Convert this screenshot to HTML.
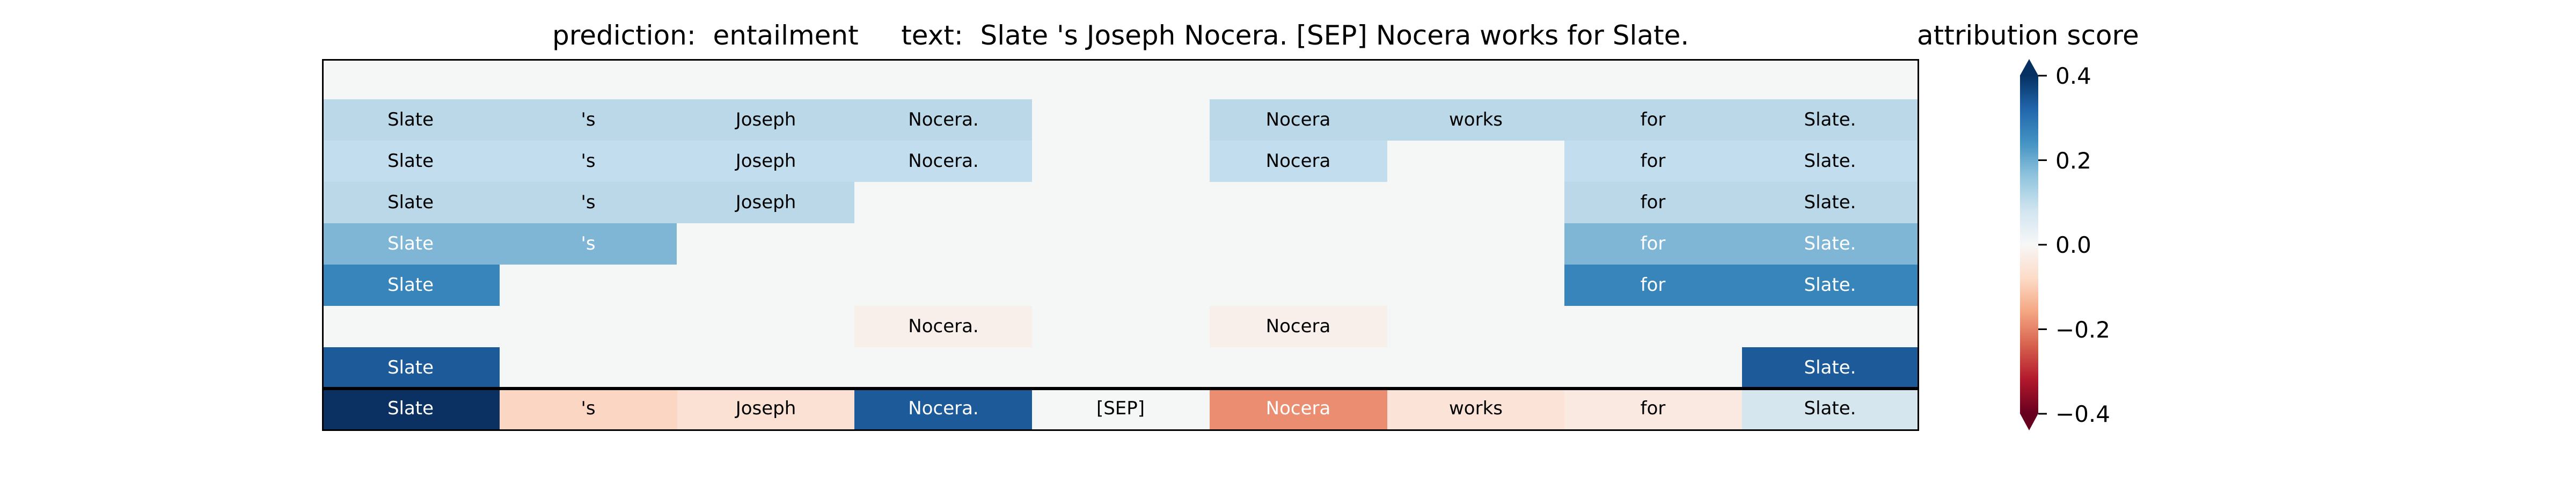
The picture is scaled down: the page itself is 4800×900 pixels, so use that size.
<!DOCTYPE html>
<html><head><meta charset="utf-8"><style>
html,body{margin:0;padding:0;background:#fff;width:4800px;height:900px;overflow:hidden}
svg text{font-family:"DejaVu Sans","Liberation Sans",sans-serif}
</style></head><body>
<svg width="4800" height="900" viewBox="0 0 4800 900" xmlns="http://www.w3.org/2000/svg">
<defs>
<linearGradient id="rdbu" x1="0" y1="0" x2="0" y2="1">
<stop offset="0" stop-color="#053061"/><stop offset="0.1" stop-color="#2166ac"/><stop offset="0.2" stop-color="#4393c3"/><stop offset="0.3" stop-color="#92c5de"/><stop offset="0.4" stop-color="#d1e5f0"/><stop offset="0.5" stop-color="#f7f7f7"/><stop offset="0.6" stop-color="#fddbc7"/><stop offset="0.7" stop-color="#f4a582"/><stop offset="0.8" stop-color="#d6604d"/><stop offset="0.9" stop-color="#b2182b"/><stop offset="1" stop-color="#67001f"/>
</linearGradient>
</defs>
<text x="1029" y="83" font-size="50" xml:space="preserve" style="white-space:pre">prediction:  entailment     text:  Slate 's Joseph Nocera. [SEP] Nocera works for Slate.</text>
<text x="3572" y="83" font-size="50">attribution score</text>
<rect x="600" y="110" width="2975" height="692" fill="#f5f6f6"/>
<g font-size="34" text-anchor="middle">
<!-- row1 -->
<g fill="#bad8e8"><rect x="600" y="185" width="1323" height="77"/><rect x="2254" y="185" width="1321" height="77"/></g>
<!-- row2 -->
<g fill="#c2dded"><rect x="600" y="262" width="1323" height="77"/><rect x="2254" y="262" width="331" height="77"/><rect x="2915" y="262" width="660" height="77"/></g>
<!-- row3 -->
<g fill="#bad8e8"><rect x="600" y="339" width="992" height="77"/><rect x="2915" y="339" width="660" height="77"/></g>
<!-- row4 -->
<g fill="#7fb6d6"><rect x="600" y="416" width="661" height="77"/><rect x="2915" y="416" width="660" height="77"/></g>
<!-- row5 -->
<g fill="#3885bc"><rect x="600" y="493" width="331" height="77"/><rect x="2915" y="493" width="660" height="77"/></g>
<!-- row6 -->
<g fill="#f8efea"><rect x="1592" y="570" width="331" height="77"/><rect x="2254" y="570" width="331" height="77"/></g>
<!-- row7 -->
<g fill="#1c5a9a"><rect x="600" y="647" width="331" height="75"/><rect x="3246" y="647" width="329" height="75"/></g>
<!-- row8 -->
<rect x="600" y="727" width="331" height="74" fill="#0a3162"/>
<rect x="931" y="727" width="331" height="74" fill="#fbd7c3"/>
<rect x="1262" y="727" width="330" height="74" fill="#fae1d3"/>
<rect x="1592" y="727" width="331" height="74" fill="#1c5a9a"/>
<rect x="1923" y="727" width="331" height="74" fill="#f5f6f6"/>
<rect x="2254" y="727" width="331" height="74" fill="#ea8d71"/>
<rect x="2585" y="727" width="330" height="74" fill="#fbe3d7"/>
<rect x="2915" y="727" width="331" height="74" fill="#fae9e0"/>
<rect x="3246" y="727" width="329" height="74" fill="#d5e6ef"/>

<g fill="#000">
<text x="765" y="234">Slate</text><text x="1096" y="234">'s</text><text x="1427" y="234">Joseph</text><text x="1758" y="234">Nocera.</text><text x="2419" y="234">Nocera</text><text x="2750" y="234">works</text><text x="3080" y="234">for</text><text x="3410" y="234">Slate.</text>
<text x="765" y="311">Slate</text><text x="1096" y="311">'s</text><text x="1427" y="311">Joseph</text><text x="1758" y="311">Nocera.</text><text x="2419" y="311">Nocera</text><text x="3080" y="311">for</text><text x="3410" y="311">Slate.</text>
<text x="765" y="388">Slate</text><text x="1096" y="388">'s</text><text x="1427" y="388">Joseph</text><text x="3080" y="388">for</text><text x="3410" y="388">Slate.</text>
<text x="1758" y="619">Nocera.</text><text x="2419" y="619">Nocera</text>
<text x="1096" y="772">'s</text><text x="1427" y="772">Joseph</text><text x="2088" y="772">[SEP]</text><text x="2750" y="772">works</text><text x="3080" y="772">for</text><text x="3410" y="772">Slate.</text>
</g>
<g fill="#fff">
<text x="765" y="465">Slate</text><text x="1096" y="465">'s</text><text x="3080" y="465">for</text><text x="3410" y="465">Slate.</text>
<text x="765" y="542">Slate</text><text x="3080" y="542">for</text><text x="3410" y="542">Slate.</text>
<text x="765" y="696">Slate</text><text x="3410" y="696">Slate.</text>
<text x="765" y="772">Slate</text><text x="1758" y="772">Nocera.</text><text x="2419" y="772">Nocera</text>
</g>
</g>
<rect x="600" y="721" width="2975" height="6" fill="#000"/>
<rect x="601.5" y="111.5" width="2973" height="690" fill="none" stroke="#000" stroke-width="3"/>
<!-- colorbar -->
<rect x="3764" y="140" width="34" height="631" fill="url(#rdbu)"/>
<polygon points="3764,140.5 3781,110 3798,140.5" fill="#053061"/>
<polygon points="3764,770.5 3781,802 3798,770.5" fill="#67001f"/>
<g stroke="#000" stroke-width="3">
<line x1="3798" y1="141" x2="3814" y2="141"/><line x1="3798" y1="298.5" x2="3814" y2="298.5"/><line x1="3798" y1="456" x2="3814" y2="456"/><line x1="3798" y1="613.5" x2="3814" y2="613.5"/><line x1="3798" y1="771" x2="3814" y2="771"/>
</g>
<g font-size="42" fill="#000">
<text x="3830" y="156">0.4</text><text x="3830" y="314">0.2</text><text x="3830" y="471">0.0</text><text x="3830" y="629">−0.2</text><text x="3830" y="786">−0.4</text>
</g>
</svg>
</body></html>
